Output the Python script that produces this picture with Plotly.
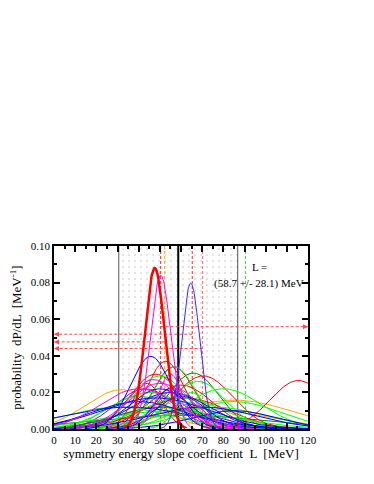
import numpy as np
import plotly.graph_objects as go

# Averaged result for the slope coefficient
L_avg = 58.7
L_err = 28.1

# Gaussian distributions: centre, width, peak height
thick_red_mu, thick_red_sig, thick_red_peak = [47.6], [4.6], [0.088]
narrow_magenta_mu, narrow_magenta_sig, narrow_magenta_peak = [50.4], [4.8], [0.084]
narrow_blue_mu, narrow_blue_sig, narrow_blue_peak = [64.6], [4.3], [0.0797]

red_mu = [52.7, 56.6, 70.5, 115.4, 48.0, 60.0, 44.0, 62.0]
red_sig = [9.0, 10.0, 14.0, 13.2, 12.0, 15.0, 7.0, 20.0]
red_peak = [0.037, 0.034, 0.029, 0.0265, 0.030, 0.024, 0.025, 0.017]

blue_mu = [45.7, 50.0, 55.0, 40.0, 60.0, 48.0, 35.0, 70.0, 55.0, 85.0]
blue_sig = [9.5, 14.0, 18.0, 22.0, 12.0, 25.0, 30.0, 25.0, 8.0, 20.0]
blue_peak = [0.0397, 0.022, 0.020, 0.015, 0.018, 0.017, 0.012, 0.012, 0.022, 0.010]

green_mu = [57.0, 50.0, 68.0, 80.0, 45.0, 60.0, 40.0, 85.0, 30.0, 75.0, 55.0, 65.0]
green_sig = [10.0, 13.0, 13.0, 18.0, 18.0, 20.0, 15.0, 22.0, 25.0, 25.0, 30.0, 7.0]
green_peak = [0.034, 0.029, 0.026, 0.022, 0.020, 0.017, 0.018, 0.015, 0.012, 0.012, 0.010, 0.020]

dkgreen_mu = [65.8, 60.0, 50.0]
dkgreen_sig = [12.0, 40.0, 20.0]
dkgreen_peak = [0.0306, 0.0075, 0.012]

magenta_mu = [47.0, 50.0, 40.0, 58.0, 55.0]
magenta_sig = [12.0, 15.0, 18.0, 10.0, 6.0]
magenta_peak = [0.027, 0.025, 0.022, 0.022, 0.030]

orange_mu = [32.0, 85.0, 70.0]
orange_sig = [17.0, 28.0, 30.0]
orange_peak = [0.0215, 0.0158, 0.011]

cyan_mu = [50.0, 60.0]
cyan_sig = [12.0, 15.0]
cyan_peak = [0.018, 0.015]

violet_mu = [43.0, 52.0]
violet_sig = [14.0, 22.0]
violet_peak = [0.022, 0.012]

# Reference values marked with dashed lines
vline_L = [50.4, 52.3, 65.3, 70.2, 90.5]
left_arrow_y = [0.0518, 0.0476, 0.0440]
left_arrow_from = [65.3, 52.3, 70.2]
right_arrow_y = [0.0559]
right_arrow_from = [50.4]

L = np.linspace(0, 120, 481)
fig = go.Figure()

# dotted band L_avg +/- L_err
lo, hi = L_avg - L_err, L_avg + L_err
fig.add_trace(go.Scatter(
    x=[lo, hi, hi, lo, lo], y=[0, 0, 0.1, 0.1, 0], mode='lines',
    fill='toself', fillcolor='rgba(0,0,0,0)',
    fillpattern=dict(shape='.', fgcolor='#c8c8c8', bgcolor='white', size=6, solidity=0.12),
    line=dict(width=0), hoverinfo='skip', showlegend=False))

def vline(x, color, width, dash='solid'):
    fig.add_trace(go.Scatter(x=[x, x], y=[0, 0.1], mode='lines',
                             line=dict(color=color, width=width, dash=dash),
                             hoverinfo='skip', showlegend=False))

vline(lo, '#555555', 1)
vline(hi, '#555555', 1)
vline(L_avg, 'black', 2)
vcols = ['#ff2020', '#ffa500', '#ff2020', '#ff7070', '#30e030']
for xv, c in zip(vline_L, vcols):
    vline(xv, c, 1, '3px,2px')

# horizontal dashed arrows
for yv, x0 in zip(left_arrow_y, left_arrow_from):
    fig.add_trace(go.Scatter(x=[x0, 0], y=[yv, yv], mode='lines',
                             line=dict(color='#ff4a4a', width=1, dash='3px,2px'),
                             hoverinfo='skip', showlegend=False))
    fig.add_annotation(x=0, y=yv, ax=3, ay=yv, axref='x', ayref='y', text='',
                       showarrow=True, arrowhead=2, arrowsize=1, arrowwidth=1,
                       arrowcolor='#ff4a4a')
for yv, x0 in zip(right_arrow_y, right_arrow_from):
    fig.add_trace(go.Scatter(x=[x0, 120], y=[yv, yv], mode='lines',
                             line=dict(color='#ff4a4a', width=1, dash='3px,2px'),
                             hoverinfo='skip', showlegend=False))
    fig.add_annotation(x=120, y=yv, ax=117, ay=yv, axref='x', ayref='y', text='',
                       showarrow=True, arrowhead=2, arrowsize=1, arrowwidth=1,
                       arrowcolor='#ff4a4a')

def add_group(mus, sigs, peaks, color, width, cut=2e-4):
    for mu, sig, pk in zip(mus, sigs, peaks):
        y = pk * np.exp(-0.5 * ((L - mu) / sig) ** 2)
        y = np.where(y < cut, np.nan, y)
        fig.add_trace(go.Scatter(
            x=L, y=y, mode='lines', connectgaps=False,
            line=dict(color=color, width=width), hoverinfo='skip', showlegend=False))

add_group(orange_mu, orange_sig, orange_peak, '#ffa500', 1)
add_group(cyan_mu, cyan_sig, cyan_peak, '#00e5ff', 1)
add_group(violet_mu, violet_sig, violet_peak, '#9400d3', 1)
add_group(dkgreen_mu, dkgreen_sig, dkgreen_peak, '#008b00', 1)
add_group(red_mu, red_sig, red_peak, '#ff0000', 1, cut=6e-4)
add_group(green_mu, green_sig, green_peak, '#00ff00', 1)
add_group(blue_mu, blue_sig, blue_peak, '#0000ff', 1)
add_group(magenta_mu, magenta_sig, magenta_peak, '#ff00ff', 1)
add_group(narrow_blue_mu, narrow_blue_sig, narrow_blue_peak, '#3030ff', 1, cut=3e-4)
add_group(narrow_magenta_mu, narrow_magenta_sig, narrow_magenta_peak, '#ff00ff', 1, cut=3e-4)
add_group(thick_red_mu, thick_red_sig, thick_red_peak, '#ff0000', 2.5, cut=6e-4)

fig.add_annotation(x=97, y=0.0885, text='L =', showarrow=False,
                   font=dict(size=11, color='black'))
fig.add_annotation(x=97, y=0.0797, text='(%.1f +/- %.1f) MeV' % (L_avg, L_err),
                   showarrow=False, font=dict(size=11, color='black'))

axis_common = dict(showline=True, linecolor='black', linewidth=1.5, mirror='ticks',
                   ticks='inside', ticklen=6, tickcolor='black', tickwidth=1.5,
                   showgrid=False, zeroline=False, automargin=False)

fig.update_xaxes(range=[0, 120], dtick=10,
                 minor=dict(dtick=5, ticks='inside', ticklen=3, tickcolor='black', showgrid=False),
                 title=dict(text='symmetry energy slope coefficient  L  [MeV]', standoff=2),
                 **axis_common)
fig.update_yaxes(range=[0, 0.1], dtick=0.02, tickformat='.2f',
                 minor=dict(dtick=0.01, ticks='inside', ticklen=3, tickcolor='black', showgrid=False),
                 title=dict(text='probability  dP/dL  [MeV<sup>-1</sup>]', standoff=6),
                 **axis_common)

# the page adds an 8px body margin, so the figure is 8px smaller and shifted
fig.update_layout(
    width=366, height=476,
    margin=dict(l=46, r=66, t=238, b=55),
    paper_bgcolor='white', plot_bgcolor='white',
    font=dict(family='Liberation Serif', size=11, color='black'),
    showlegend=False,
)

fig.write_html("out.html")
